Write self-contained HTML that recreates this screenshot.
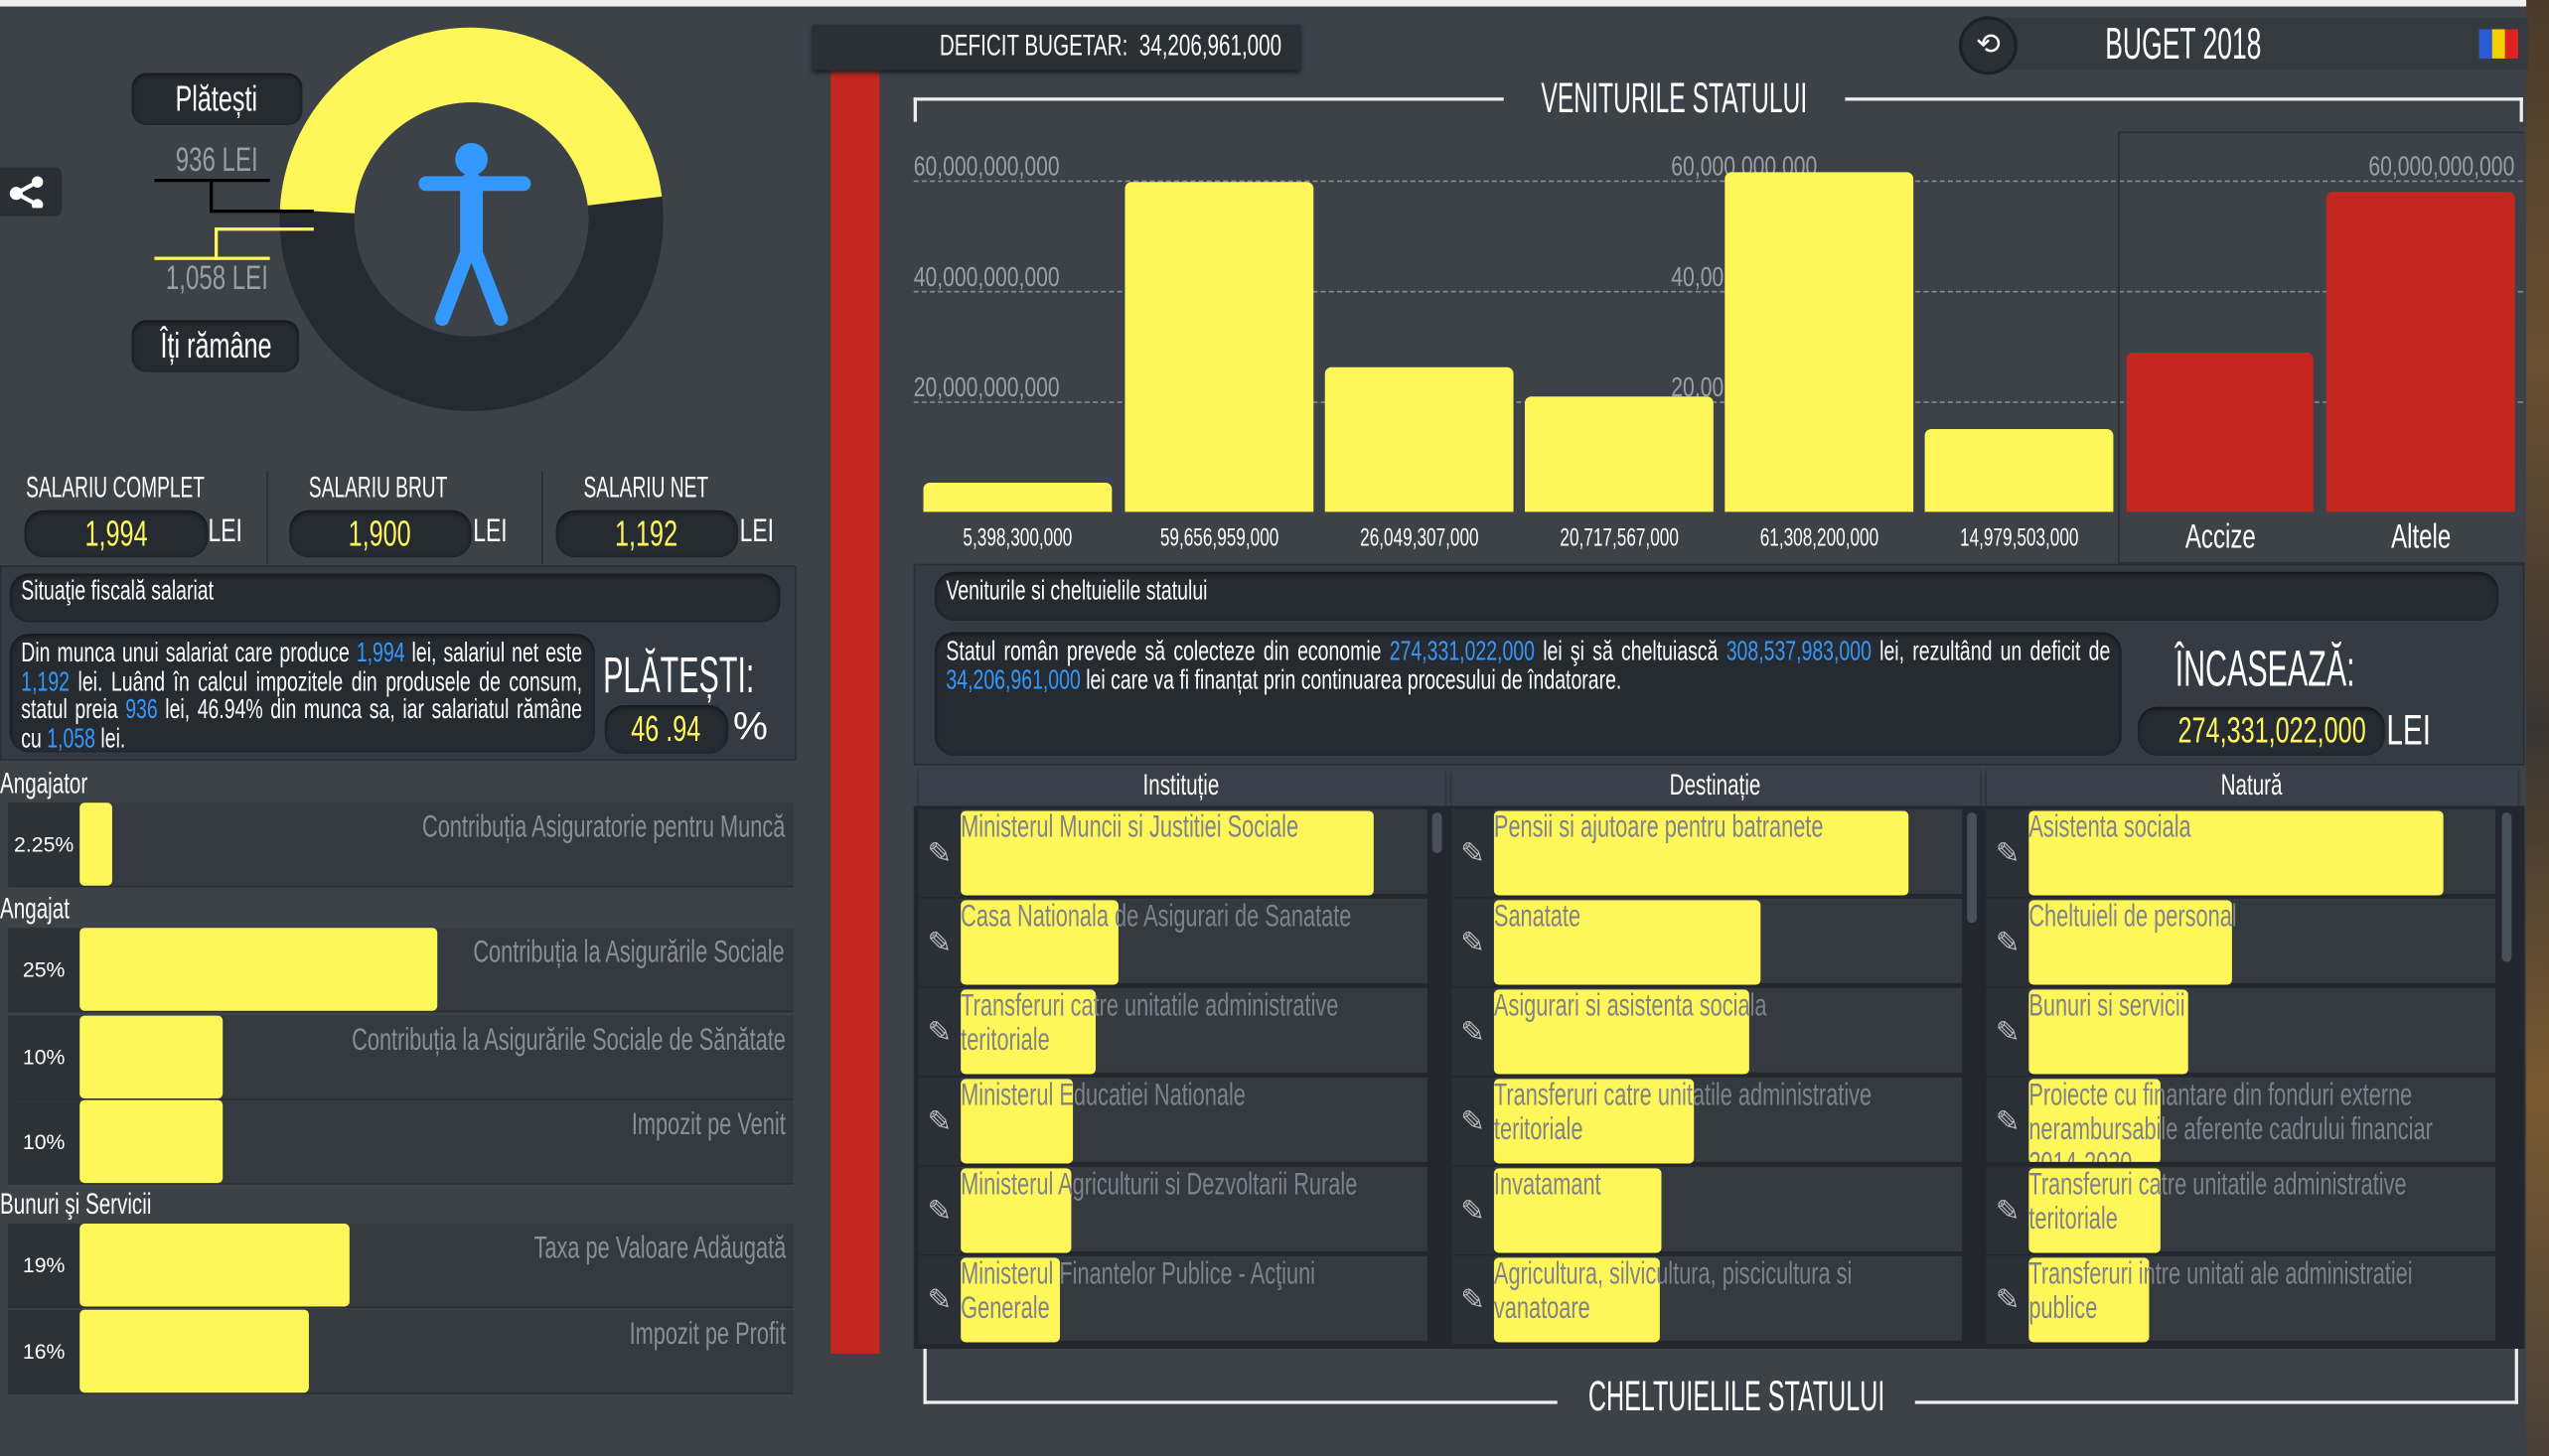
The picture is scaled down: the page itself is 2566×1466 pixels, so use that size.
<!DOCTYPE html>
<html><head><meta charset="utf-8">
<style>
*{box-sizing:border-box;margin:0;padding:0}
html,body{width:2566px;height:1466px;overflow:hidden;background:#3d4249}
#w{position:absolute;left:0;top:0;width:1568px;height:896px;transform:scale(1.63648,1.63616);transform-origin:0 0;background:#3d4249;font-family:"Liberation Sans",sans-serif;color:#fff;overflow:hidden}
.a{position:absolute;white-space:nowrap}
.n{transform:scaleX(.7);transform-origin:0 0}
.cc{display:inline-block;transform:scaleX(.7)}
.pill{position:absolute;background:#262b32;border-radius:12px;box-shadow:inset 0 1px 3px #111}
.y{color:#fff75a}.b{color:#3399ff}
.row{position:absolute;left:5px;width:483px;height:51px;background:#353a41;box-shadow:0 1px 0 #2a2e34}
.row .p{position:absolute;left:0;top:0;width:44px;height:51px;background:#2d3238;font-size:13px;text-align:center;line-height:51px}
.row .bar{position:absolute;left:44px;top:0;height:51px;background:#fff75a;border-radius:3px}
.row .t{position:absolute;right:5px;top:5px;font-size:19px;color:#8b8e93;transform:scaleX(.7);transform-origin:100% 0;white-space:nowrap}
.bar2{position:absolute;background:#fff75a;border-radius:4px 4px 0 0}
.red{background:#c4271f}
.grid{position:absolute;left:562px;width:990px;border-top:1px dashed #8a8e94}
.yl{position:absolute;font-size:17px;color:#9aa0a6;transform:scaleX(.76);transform-origin:0 0;white-space:nowrap}
.xl{position:absolute;font-size:15px;width:116px;text-align:center;top:323px;white-space:nowrap}
.hd{position:absolute;top:471px;height:25px;background:#3a4049;border-radius:4px 4px 0 0;text-align:center;font-size:18px;line-height:25px;box-shadow:0 2px 2px #1e2227}
.cell{position:absolute;height:54px;background:#353a41;border-bottom:2px solid #23272d}
.cell .ic{position:absolute;left:0;top:0;width:26px;height:54px;background:#2b3036;color:#bbb;font-size:18px;line-height:54px;text-align:center}
.cell .yb{position:absolute;left:26px;top:1px;height:52px;background:#fff75a;border-radius:3px}
.cell .tx{position:absolute;left:26px;top:1px;font-size:19px;line-height:21px;color:#7f8288;white-space:normal;width:380px;transform:scaleX(.7);transform-origin:0 0}
.para{position:absolute;font-size:17px;line-height:17.5px;text-align:justify;white-space:normal;transform:scaleX(.7);transform-origin:0 0}
</style></head><body><div id="w">
<div class="a" style="left:0;top:0;width:1568px;height:4px;background:#f0f0f0"></div>
<div class="a" style="left:1554px;top:0;width:14px;height:896px;background:linear-gradient(#4a3a2a,#6b5030,#3a3430,#7a5a30,#4a4038)"></div>

<div class="a" style="left:0;top:103px;width:38px;height:30px;background:#2a2f35;border-radius:0 4px 4px 0"></div>
<svg class="a" style="left:4px;top:108px" width="26" height="20"><line x1="6" y1="11" x2="19" y2="4" stroke="#fff" stroke-width="2.5"/><line x1="6" y1="11" x2="19" y2="18" stroke="#fff" stroke-width="2.5"/><circle cx="6" cy="11" r="4" fill="#fff"/><circle cx="19" cy="4" r="3.5" fill="#fff"/><circle cx="19" cy="18" r="3.5" fill="#fff"/></svg>

<svg class="a" style="left:170px;top:15px" width="240" height="240">
<circle cx="120" cy="120" r="95" fill="none" stroke="#262b32" stroke-width="46"/>
<circle cx="120" cy="120" r="95" fill="none" stroke="#fff75a" stroke-width="46" stroke-dasharray="282 600" transform="rotate(183 120 120)"/>
<circle cx="120" cy="120" r="72" fill="#3d4249"/>
<g stroke="#3399ff" stroke-linecap="round" fill="none">
<line x1="92" y1="98" x2="152" y2="98" stroke-width="9"/>
<line x1="120" y1="98" x2="120" y2="140" stroke-width="14"/>
<line x1="117" y1="142" x2="102" y2="181" stroke-width="9"/>
<line x1="123" y1="142" x2="138" y2="181" stroke-width="9"/>
</g><circle cx="120" cy="83" r="10" fill="#3399ff"/>
</svg>
<div class="pill a" style="left:81px;top:45px;width:105px;height:32px;border-radius:9px;font-size:22px;text-align:center;line-height:32px"><span class="cc">Plătești</span></div>
<div class="a n" style="left:108px;top:87px;font-size:21px;color:#9a9da2">936 LEI</div>
<div class="a" style="left:95px;top:110px;width:71px;height:2px;background:#000"></div>
<div class="a" style="left:129px;top:110px;width:2px;height:21px;background:#000"></div>
<div class="a" style="left:129px;top:129px;width:64px;height:2px;background:#000"></div>
<div class="a" style="left:132px;top:140px;width:61px;height:2px;background:#fff75a"></div>
<div class="a" style="left:132px;top:140px;width:2px;height:20px;background:#fff75a"></div>
<div class="a" style="left:95px;top:158px;width:71px;height:2px;background:#fff75a"></div>
<div class="a n" style="left:102px;top:160px;font-size:21px;color:#9a9da2">1,058 LEI</div>
<div class="pill a" style="left:81px;top:197px;width:103px;height:32px;border-radius:9px;font-size:22px;text-align:center;line-height:32px"><span class="cc">Îți rămâne</span></div>

<div class="a n" style="left:16px;top:290px;font-size:18px;transform:scaleX(.65)">SALARIU COMPLET</div>
<div class="a n" style="left:190px;top:290px;font-size:18px;transform:scaleX(.65)">SALARIU BRUT</div>
<div class="a n" style="left:359px;top:290px;font-size:18px;transform:scaleX(.65)">SALARIU NET</div>
<div class="a" style="left:164px;top:290px;width:1px;height:57px;background:#2a2e34"></div>
<div class="a" style="left:333px;top:290px;width:1px;height:57px;background:#2a2e34"></div>
<div class="pill y" style="left:15px;top:314px;width:113px;height:29px;font-size:22px;text-align:center;line-height:29px"><span class="cc">1,994</span></div>
<div class="a n" style="left:128px;top:316px;font-size:20px">LEI</div>
<div class="pill y" style="left:178px;top:314px;width:112px;height:29px;font-size:22px;text-align:center;line-height:29px"><span class="cc">1,900</span></div>
<div class="a n" style="left:291px;top:316px;font-size:20px">LEI</div>
<div class="pill y" style="left:342px;top:314px;width:112px;height:29px;font-size:22px;text-align:center;line-height:29px"><span class="cc">1,192</span></div>
<div class="a n" style="left:455px;top:316px;font-size:20px">LEI</div>

<div class="a" style="left:0;top:348px;width:490px;height:120px;background:#353b43;border:1px solid #2a2e34"></div>
<div class="pill a" style="left:6px;top:353px;width:474px;height:30px"></div>
<div class="a n" style="left:13px;top:354px;font-size:17px">Situaţie fiscală salariat</div>
<div class="pill" style="left:6px;top:390px;width:360px;height:73px"></div>
<div class="para" style="left:13px;top:393px;width:493px">Din munca unui salariat care produce <span class="b">1,994</span> lei, salariul net este <span class="b">1,192</span> lei. Luând în calcul impozitele din produsele de consum, statul preia <span class="b">936</span> lei, 46.94% din munca sa, iar salariatul rămâne cu <span class="b">1,058</span> lei.</div>
<div class="a n" style="left:371px;top:398px;font-size:31px;transform:scaleX(.6)">PLĂTEȘTI:</div>
<div class="pill y" style="left:372px;top:434px;width:76px;height:30px;font-size:22px;text-align:center;line-height:30px"><span class="cc">46 .94</span></div>
<div class="a" style="left:451px;top:434px;font-size:24px">%</div>

<div class="a n" style="left:0;top:472px;font-size:18px">Angajator</div>
<div class="row" style="top:494px"><div class="p">2.25%</div><div class="bar" style="width:20px"></div><div class="t">Contribuția Asiguratorie pentru Muncă</div></div>
<div class="a n" style="left:0;top:549px;font-size:18px">Angajat</div>
<div class="row" style="top:571px"><div class="p">25%</div><div class="bar" style="width:220px"></div><div class="t">Contribuția la Asigurările Sociale</div></div>
<div class="row" style="top:625px"><div class="p">10%</div><div class="bar" style="width:88px"></div><div class="t">Contribuția la Asigurările Sociale de Sănătate</div></div>
<div class="row" style="top:677px"><div class="p">10%</div><div class="bar" style="width:88px"></div><div class="t">Impozit pe Venit</div></div>
<div class="a n" style="left:0;top:731px;font-size:18px">Bunuri şi Servicii</div>
<div class="row" style="top:753px"><div class="p">19%</div><div class="bar" style="width:166px"></div><div class="t">Taxa pe Valoare Adăugată</div></div>
<div class="row" style="top:806px"><div class="p">16%</div><div class="bar" style="width:141px"></div><div class="t">Impozit pe Profit</div></div>

<div class="a" style="left:511px;top:38px;width:30px;height:795px;background:#c4271f"></div>
<div class="a" style="left:500px;top:15px;width:300px;height:28px;background:#2b3036;box-shadow:0 2px 3px #1a1d21"></div>
<div class="a n" style="left:578px;top:18px;font-size:18px">DEFICIT BUGETAR:&nbsp; 34,206,961,000</div>
<div class="a" style="left:1230px;top:11px;width:325px;height:32px;background:#353a41"></div>
<div class="a" style="left:1205px;top:10px;width:36px;height:36px;border-radius:50%;background:#2b3036;border:2px solid #1e2227;text-align:center;line-height:30px;font-size:18px">⟲</div>
<div class="a n" style="left:1295px;top:12px;font-size:27px;transform:scaleX(.6)">BUGET 2018</div>
<div class="a" style="left:1525px;top:18px;width:8px;height:18px;background:#2a5bd7"></div>
<div class="a" style="left:1533px;top:18px;width:8px;height:18px;background:#f5d000"></div>
<div class="a" style="left:1541px;top:18px;width:8px;height:18px;background:#d22"></div>

<div class="a" style="left:562px;top:60px;width:363px;height:2px;background:#eee"></div>
<div class="a" style="left:1135px;top:60px;width:417px;height:2px;background:#eee"></div>
<div class="a" style="left:562px;top:60px;width:2px;height:15px;background:#eee"></div>
<div class="a" style="left:1550px;top:60px;width:2px;height:15px;background:#eee"></div>
<div class="a n" style="left:948px;top:45px;font-size:26px;transform:scaleX(.58)">VENITURILE STATULUI</div>
<div class="grid" style="top:111px"></div><div class="grid" style="top:179px"></div><div class="grid" style="top:247px"></div>
<div class="yl" style="left:562px;top:93px">60,000,000,000</div>
<div class="yl" style="left:562px;top:161px">40,000,000,000</div>
<div class="yl" style="left:562px;top:229px">20,000,000,000</div>
<div class="yl" style="left:1028px;top:93px">60,000,000,000</div>
<div class="yl" style="left:1028px;top:161px">40,00</div>
<div class="yl" style="left:1028px;top:229px">20,00</div>
<div class="yl" style="left:1457px;top:93px">60,000,000,000</div>
<div class="a" style="left:1303px;top:81px;width:250px;height:266px;border:1px solid #2a2e34;border-right:none"></div>
<div class="bar2" style="left:568px;top:297px;width:116px;height:18px"></div>
<div class="bar2" style="left:692px;top:112px;width:116px;height:203px"></div>
<div class="bar2" style="left:815px;top:226px;width:116px;height:89px"></div>
<div class="bar2" style="left:938px;top:244px;width:116px;height:71px"></div>
<div class="bar2" style="left:1061px;top:106px;width:116px;height:209px"></div>
<div class="bar2" style="left:1184px;top:264px;width:116px;height:51px"></div>
<div class="bar2 red" style="left:1308px;top:217px;width:115px;height:98px"></div>
<div class="bar2 red" style="left:1431px;top:118px;width:116px;height:197px"></div>
<div class="xl" style="left:568px"><span class="cc">5,398,300,000</span></div>
<div class="xl" style="left:692px"><span class="cc">59,656,959,000</span></div>
<div class="xl" style="left:815px"><span class="cc">26,049,307,000</span></div>
<div class="xl" style="left:938px"><span class="cc">20,717,567,000</span></div>
<div class="xl" style="left:1061px"><span class="cc">61,308,200,000</span></div>
<div class="xl" style="left:1184px"><span class="cc">14,979,503,000</span></div>
<div class="xl" style="left:1308px;font-size:21px;top:319px"><span class="cc">Accize</span></div>
<div class="xl" style="left:1431px;font-size:21px;top:319px"><span class="cc">Altele</span></div>

<div class="a" style="left:562px;top:347px;width:991px;height:124px;background:#353b43;border:1px solid #2a2e34"></div>
<div class="pill a" style="left:575px;top:352px;width:962px;height:30px"></div>
<div class="a n" style="left:582px;top:354px;font-size:17px">Veniturile si cheltuielile statului</div>
<div class="pill" style="left:575px;top:389px;width:730px;height:76px"></div>
<div class="para" style="left:582px;top:392px;width:1023px">Statul român prevede să colecteze din economie <span class="b">274,331,022,000</span> lei şi să cheltuiască <span class="b">308,537,983,000</span> lei, rezultând un deficit de <span class="b">34,206,961,000</span> lei care va fi finanțat prin continuarea procesului de îndatorare.</div>
<div class="a n" style="left:1338px;top:394px;font-size:31px;transform:scaleX(.6)">ÎNCASEAZĂ:</div>
<div class="pill y" style="left:1315px;top:435px;width:152px;height:30px;font-size:22px;text-align:center;line-height:30px"><span class="cc">274,331,022,000</span></div>
<div class="a n" style="left:1468px;top:434px;font-size:26px">LEI</div>

<div class="hd" style="left:565px;width:324px"><span class="cc">Instituție</span></div>
<div class="hd" style="left:893px;width:325px"><span class="cc">Destinație</span></div>
<div class="hd" style="left:1222px;width:327px"><span class="cc">Natură</span></div>
<div class="a" style="left:562px;top:496px;width:991px;height:334px;background:#23272d"></div>

<div class="cell" style="left:565px;top:498px;width:313px"><div class="ic">✎</div><div class="yb" style="width:254px"></div><div class="tx">Ministerul Muncii si Justitiei Sociale</div></div>
<div class="cell" style="left:565px;top:553px;width:313px"><div class="ic">✎</div><div class="yb" style="width:97px"></div><div class="tx">Casa Nationala de Asigurari de Sanatate</div></div>
<div class="cell" style="left:565px;top:608px;width:313px"><div class="ic">✎</div><div class="yb" style="width:83px"></div><div class="tx">Transferuri catre unitatile administrative teritoriale</div></div>
<div class="cell" style="left:565px;top:663px;width:313px"><div class="ic">✎</div><div class="yb" style="width:69px"></div><div class="tx">Ministerul Educatiei Nationale</div></div>
<div class="cell" style="left:565px;top:718px;width:313px"><div class="ic">✎</div><div class="yb" style="width:68px"></div><div class="tx">Ministerul Agriculturii si Dezvoltarii Rurale</div></div>
<div class="cell" style="left:565px;top:773px;width:313px"><div class="ic">✎</div><div class="yb" style="width:61px"></div><div class="tx">Ministerul Finantelor Publice - Acţiuni Generale</div></div>
<div class="a" style="left:881px;top:500px;width:6px;height:25px;background:#4a5058;border-radius:3px"></div>
<div class="cell" style="left:893px;top:498px;width:314px"><div class="ic">✎</div><div class="yb" style="width:255px"></div><div class="tx">Pensii si ajutoare pentru batranete</div></div>
<div class="cell" style="left:893px;top:553px;width:314px"><div class="ic">✎</div><div class="yb" style="width:164px"></div><div class="tx">Sanatate</div></div>
<div class="cell" style="left:893px;top:608px;width:314px"><div class="ic">✎</div><div class="yb" style="width:157px"></div><div class="tx">Asigurari si asistenta sociala</div></div>
<div class="cell" style="left:893px;top:663px;width:314px"><div class="ic">✎</div><div class="yb" style="width:123px"></div><div class="tx">Transferuri catre unitatile administrative teritoriale</div></div>
<div class="cell" style="left:893px;top:718px;width:314px"><div class="ic">✎</div><div class="yb" style="width:103px"></div><div class="tx">Invatamant</div></div>
<div class="cell" style="left:893px;top:773px;width:314px"><div class="ic">✎</div><div class="yb" style="width:102px"></div><div class="tx">Agricultura, silvicultura, piscicultura si vanatoare</div></div>
<div class="a" style="left:1210px;top:500px;width:6px;height:68px;background:#4a5058;border-radius:3px"></div>
<div class="cell" style="left:1222px;top:498px;width:313px"><div class="ic">✎</div><div class="yb" style="width:255px"></div><div class="tx">Asistenta sociala</div></div>
<div class="cell" style="left:1222px;top:553px;width:313px"><div class="ic">✎</div><div class="yb" style="width:125px"></div><div class="tx">Cheltuieli de personal</div></div>
<div class="cell" style="left:1222px;top:608px;width:313px"><div class="ic">✎</div><div class="yb" style="width:98px"></div><div class="tx">Bunuri si servicii</div></div>
<div class="cell" style="left:1222px;top:663px;width:313px;overflow:hidden"><div class="ic">✎</div><div class="yb" style="width:81px"></div><div class="tx">Proiecte cu finantare din fonduri externe nerambursabile aferente cadrului financiar 2014-2020</div></div>
<div class="cell" style="left:1222px;top:718px;width:313px"><div class="ic">✎</div><div class="yb" style="width:81px"></div><div class="tx">Transferuri catre unitatile administrative teritoriale</div></div>
<div class="cell" style="left:1222px;top:773px;width:313px"><div class="ic">✎</div><div class="yb" style="width:74px"></div><div class="tx">Transferuri intre unitati ale administratiei publice</div></div>
<div class="a" style="left:1539px;top:500px;width:6px;height:92px;background:#4a5058;border-radius:3px"></div>

<div class="a" style="left:568px;top:830px;width:2px;height:34px;background:#eee"></div>
<div class="a" style="left:1547px;top:830px;width:2px;height:34px;background:#eee"></div>
<div class="a" style="left:568px;top:862px;width:390px;height:2px;background:#eee"></div>
<div class="a" style="left:1178px;top:862px;width:371px;height:2px;background:#eee"></div>
<div class="a n" style="left:977px;top:844px;font-size:26px;transform:scaleX(.59)">CHELTUIELILE STATULUI</div>
</div></body></html>
